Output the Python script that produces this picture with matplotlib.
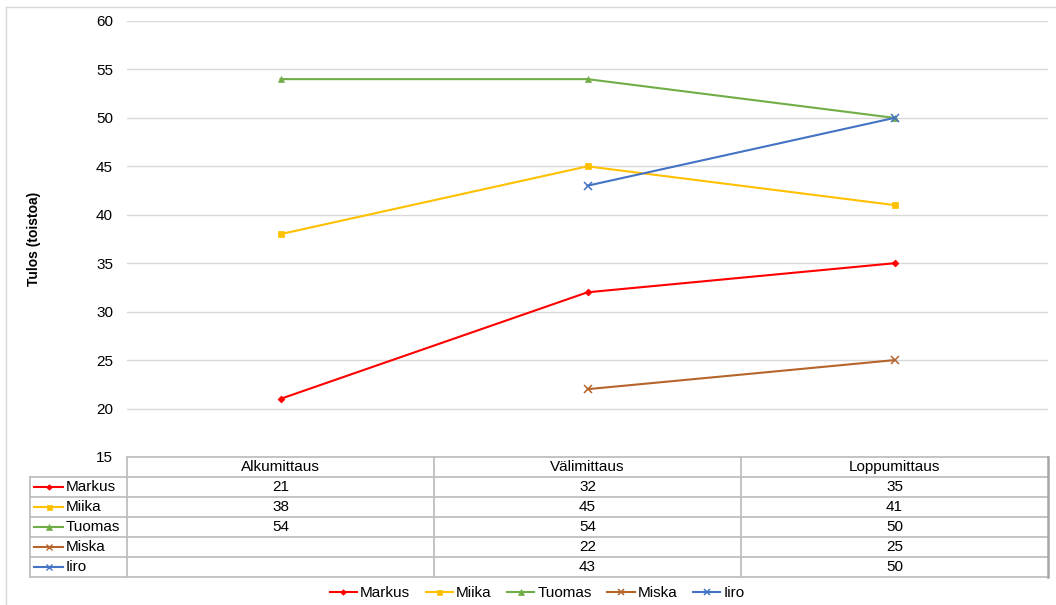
import matplotlib.pyplot as plt
from matplotlib.lines import Line2D
import numpy as np

plt.rcParams['font.family'] = ['Liberation Sans', 'DejaVu Sans']

categories = ["Alkumittaus", "Välimittaus", "Loppumittaus"]
names = ["Markus", "Miika", "Tuomas", "Miska", "Iiro"]
markus = [21, 32, 35]
miika = [38, 45, 41]
tuomas = [54, 54, 50]
miska = [None, 22, 25]
iiro = [None, 43, 50]
series = [markus, miika, tuomas, miska, iiro]

colors = ["#FF0000", "#FFC000", "#70AD47", "#B5652B", "#4472C4"]
markers = ["D", "s", "^", "x", "x"]
msizes = [3.5, 4.5, 5, 5.5, 5.5]

FS = 11
W, H = 1056, 605
fig = plt.figure(figsize=(W / 100, H / 100), dpi=100)


def fx(px):
    return px / W


def fy(py):
    return 1 - py / H


left, right, top, bottom = 127, 1048, 21, 457
ax = fig.add_axes([fx(left), fy(bottom), fx(right - left), fy(top) - fy(bottom)])

x = np.arange(len(categories))
for vals, c, m, ms, name in zip(series, colors, markers, msizes, names):
    v = np.array([np.nan if a is None else a for a in vals], dtype=float)
    ax.plot(x, v, color=c, marker=m, ms=ms, lw=1.5, label=name,
            markeredgewidth=1.1 if m == "x" else 0.5)

ax.set_xlim(-0.5, len(categories) - 0.5)
ax.set_ylim(15, 60)
ax.set_yticks(range(15, 61, 5))
ax.set_xticks([])
ax.grid(axis="y", color="#d9d9d9", lw=1)
ax.set_axisbelow(True)
for s in ax.spines.values():
    s.set_visible(False)
ax.tick_params(axis="y", length=0, labelsize=FS, pad=10)
ax.set_ylabel("Tulos (toistoa)", fontsize=10, fontweight="bold", labelpad=40)

# data table below the plot
grid_c = "#bfbfbf"
row_h = 20
lab_left = 30
col_w = (right - left) / len(categories)
rows_top = bottom + row_h
rows_bottom = rows_top + row_h * len(names)


def hline(py, x0, x1, c=grid_c, lw=1.3):
    fig.add_artist(Line2D([fx(x0), fx(x1)], [fy(py), fy(py)], color=c, lw=lw))


def vline(px, y0, y1, c=grid_c, lw=1.3):
    fig.add_artist(Line2D([fx(px), fx(px)], [fy(y0), fy(y1)], color=c, lw=lw))


hline(bottom, left, right)
for i in range(len(names) + 1):
    hline(rows_top + i * row_h, lab_left, right)
vline(lab_left, rows_top, rows_bottom)
for j in range(len(categories)):
    vline(left + j * col_w, bottom, rows_bottom)
vline(right, bottom, rows_bottom, c="#a6a6a6", lw=1.8)

for j, cat in enumerate(categories):
    fig.text(fx(left + (j + 0.5) * col_w), fy(bottom + row_h / 2), cat,
             ha="center", va="center", fontsize=FS)

for i, (name, vals, c, m, ms) in enumerate(zip(names, series, colors, markers, msizes)):
    cy = rows_top + (i + 0.5) * row_h
    fig.add_artist(Line2D([fx(34), fx(63)], [fy(cy), fy(cy)], color=c, lw=1.5))
    fig.add_artist(Line2D([fx(48.5)], [fy(cy)], color=c, marker=m, ms=ms * 0.8,
                          markeredgewidth=1 if m == "x" else 0.5))
    fig.text(fx(66), fy(cy), name, ha="left", va="center", fontsize=FS)
    for j, v in enumerate(vals):
        if v is not None:
            fig.text(fx(left + (j + 0.5) * col_w), fy(cy), str(v),
                     ha="center", va="center", fontsize=FS)

handles, labels = ax.get_legend_handles_labels()
fig.legend(handles, labels, loc="center", bbox_to_anchor=(fx(537), fy(593)),
           ncol=5, frameon=False, fontsize=FS, handlelength=1.8,
           columnspacing=1.0, handletextpad=0.2, markerscale=0.8)

# thin outer border (top and left visible)
hline(7, 6, W, c="#d9d9d9", lw=1)
vline(6, 7, H, c="#d9d9d9", lw=1)

fig.savefig("out.png", dpi=100)
